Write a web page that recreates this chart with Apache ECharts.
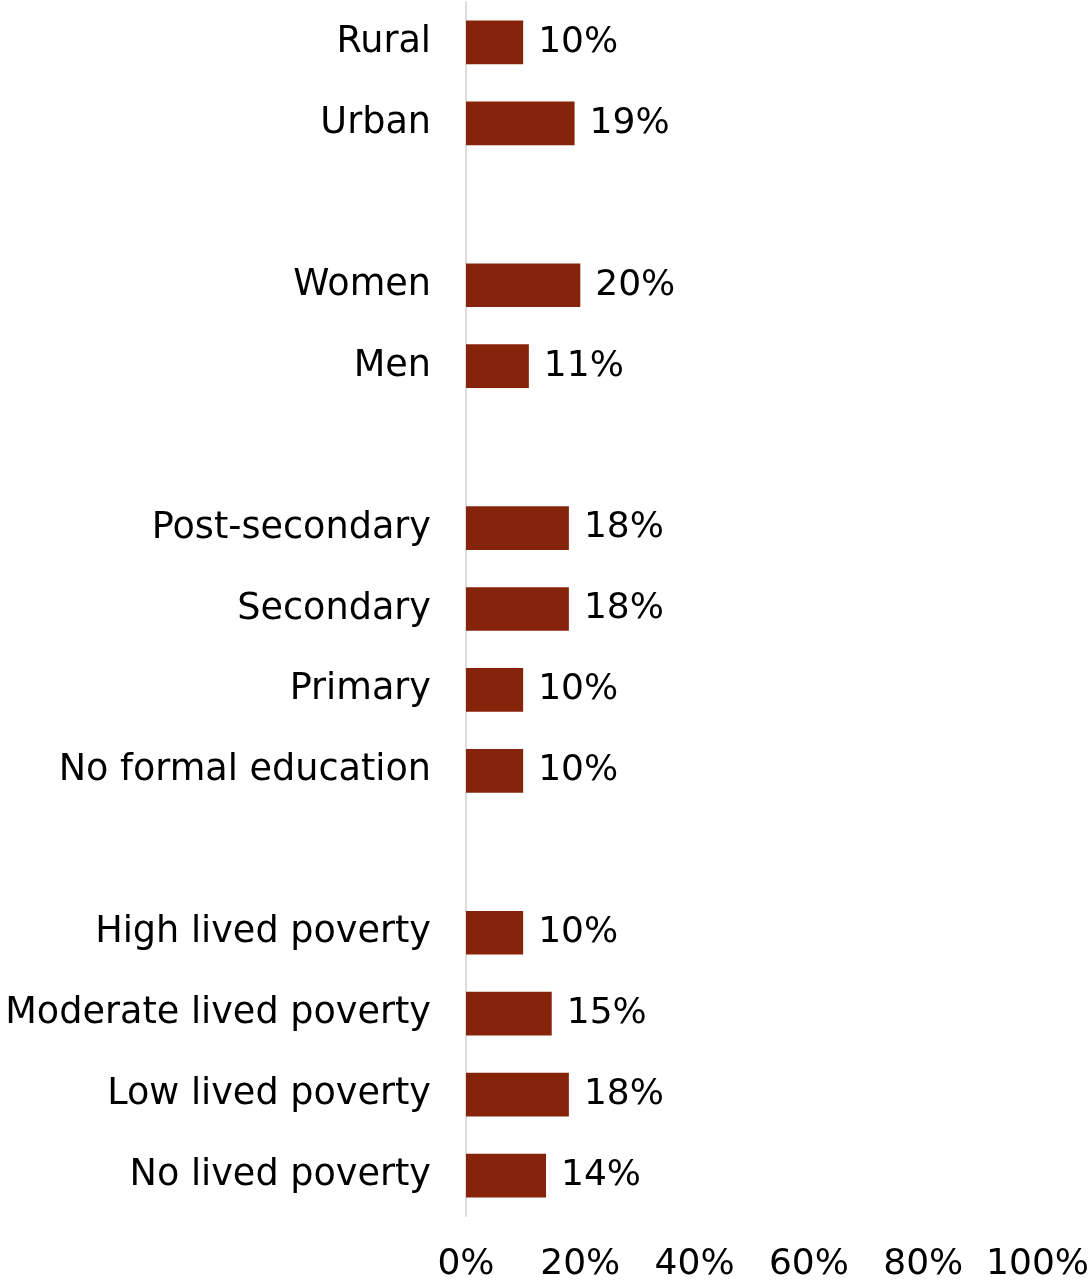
<!DOCTYPE html>
<html>
<head>
<meta charset="utf-8">
<title>Share by group</title>
<script src="https://cdn.jsdelivr.net/npm/echarts@6/dist/echarts.min.js"></script>
<style>
  html, body { margin: 0; padding: 0; background: #ffffff; }
  #chart { width: 1092px; height: 1283px; }
</style>
</head>
<body>
<div id="chart"></div>
<script>
// Groups are separated by blank rows (distinct whitespace names keep the categories unique)
const categories = [
  'Rural', 'Urban', ' ',
  'Women', 'Men', '  ',
  'Post-secondary', 'Secondary', 'Primary', 'No formal education', '   ',
  'High lived poverty', 'Moderate lived poverty', 'Low lived poverty', 'No lived poverty'
];
const values = [
  10, 19, null,
  20, 11, null,
  18, 18, 10, 10, null,
  10, 15, 18, 14
];
const xTicks = [0, 20, 40, 60, 80, 100];

const FONT = 'DejaVu Sans';
const chart = echarts.init(document.getElementById('chart'));

chart.setOption({
  animation: false,
  backgroundColor: '#ffffff',
  grid: { left: 466, right: 46, top: 2, bottom: 67, containLabel: false },
  xAxis: {
    type: 'value',
    min: xTicks[0],
    max: xTicks[xTicks.length - 1],
    interval: xTicks[1] - xTicks[0],
    axisLine: { show: false },
    axisTick: { show: false },
    splitLine: { show: false },
    axisLabel: {
      formatter: '{value}%',
      color: '#000000',
      fontFamily: FONT,
      fontSize: 36,
      margin: 31
    }
  },
  yAxis: {
    type: 'category',
    inverse: true,
    data: categories,
    axisLine: { show: true, lineStyle: { color: '#dcdcdc', width: 2 } },
    axisTick: { show: false },
    splitLine: { show: false },
    axisLabel: {
      color: '#000000',
      fontFamily: FONT,
      fontSize: 36.6,
      margin: 35,
      padding: [3, 0, 0, 0],
      interval: 0
    }
  },
  series: [{
    type: 'bar',
    data: values,
    barWidth: '54%',
    itemStyle: { color: '#86240b' },
    label: {
      show: true,
      position: 'right',
      distance: 15,
      padding: [3, 0, 0, 0],
      formatter: p => p.value == null ? '' : Math.round(p.value) + '%',
      color: '#000000',
      fontFamily: FONT,
      fontSize: 36
    }
  }]
});
</script>
</body>
</html>
